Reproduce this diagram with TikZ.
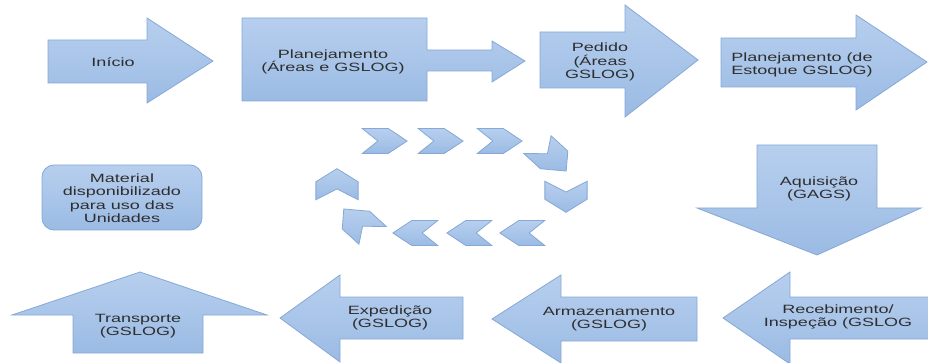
\documentclass[tikz,border=0pt]{standalone}
\usepackage{fontspec}
\newfontfamily\boxfont[FakeStretch=1.5]{Liberation Sans}
\usepackage{xcolor}
\definecolor{blutop}{HTML}{B7CFEE}
\definecolor{blubot}{HTML}{9BBBE4}
\definecolor{bluedge}{HTML}{86A8D6}
\definecolor{txtgray}{HTML}{2E2E2E}
\tikzset{blk/.style={draw=bluedge,line width=0.8pt,top color=blutop,bottom color=blubot,line join=miter}}
\tikzset{lbl/.style={font=\boxfont\fontsize{12}{13.5}\selectfont,text=txtgray,align=center,inner sep=0pt}}

\begin{document}
\begin{tikzpicture}[x=1pt,y=-1pt]
\useasboundingbox (0,0) rectangle (928,363);
% top row
\draw[blk] (48,40)--(147,40)--(147,18)--(213,61)--(147,103)--(147,83)--(48,83)--cycle;
\draw[blk] (242,18)--(427,18)--(427,50)--(492,50)--(492,41)--(525,61)--(492,82)--(492,71)--(427,71)--(427,101)--(242,101)--cycle;
\draw[blk] (540,32)--(625,32)--(625,5)--(698,60)--(625,117)--(625,88)--(540,88)--cycle;
\draw[blk] (721,38)--(856,38)--(856,15)--(927,62)--(856,110)--(856,87)--(721,87)--cycle;
% right column
\draw[blk] (757,145)--(877,145)--(877,208)--(921,208)--(817,255)--(697,208)--(757,208)--cycle;
% bottom row
\draw[blk] (935,297)--(790,297)--(790,272)--(723,318)--(790,364)--(790,339)--(935,339)--cycle;
\draw[blk] (697,297)--(561,297)--(561,275)--(492,319)--(561,363)--(561,341)--(697,341)--cycle;
\draw[blk] (463,297)--(340,297)--(340,275)--(280,318)--(340,362)--(340,339)--(463,339)--cycle;
\draw[blk] (73,353)--(73,315)--(12,315)--(140,272)--(267,315)--(203,315)--(203,353)--cycle;
% final box
\draw[blk,rounded corners=12pt] (42,165) rectangle (202,230);
% ring of chevrons
\foreach \cx/\cy/\ang/\ls/\hs in {385/141/0/1/1, 441/141/0/1/1, 500/141/0/1/1,
  552/158/-50/1/1.1, 566/197/-90/0.9/1.3, 522/233/180/1/1, 469/233/180/1/1,
  415/233/180/1/1, 358/222/130/1/1.1, 337/184/90/0.9/1.3}
{
\begin{scope}[shift={(\cx,\cy)},xscale=1.3,rotate=\ang,xscale=\ls,yscale=\hs]
\draw[blk] (-17.5,-12.5)--(2.5,-12.5)--(17,0)--(2.5,12.5)--(-17.5,12.5)--(-5.5,0)--cycle;
\end{scope}
}
% labels
\node[lbl] (start) at (113,62) {Início};
\node[lbl] (plan) at (333,62) {Planejamento\\(Áreas e GSLOG)};
\node[lbl] (order) at (600,62) {Pedido\\(Áreas\\GSLOG)};
\node[lbl] (stock) at (802,65) {Planejamento (de\\Estoque GSLOG)};
\node[lbl] (matl) at (122,198) {Material\\disponibilizado\\para uso das\\Unidades};
\node[lbl] (acq) at (819,189) {Aquisição\\(GAGS)};
\node[lbl] (recv) at (838,317) {Recebimento/\\Inspeção (GSLOG};
\node[lbl] (store) at (609,319) {Armazenamento\\(GSLOG)};
\node[lbl] (ship) at (390,318) {Expedição\\(GSLOG)};
\node[lbl] (transp) at (138,326) {Transporte\\(GSLOG)};
\end{tikzpicture}
\end{document}
